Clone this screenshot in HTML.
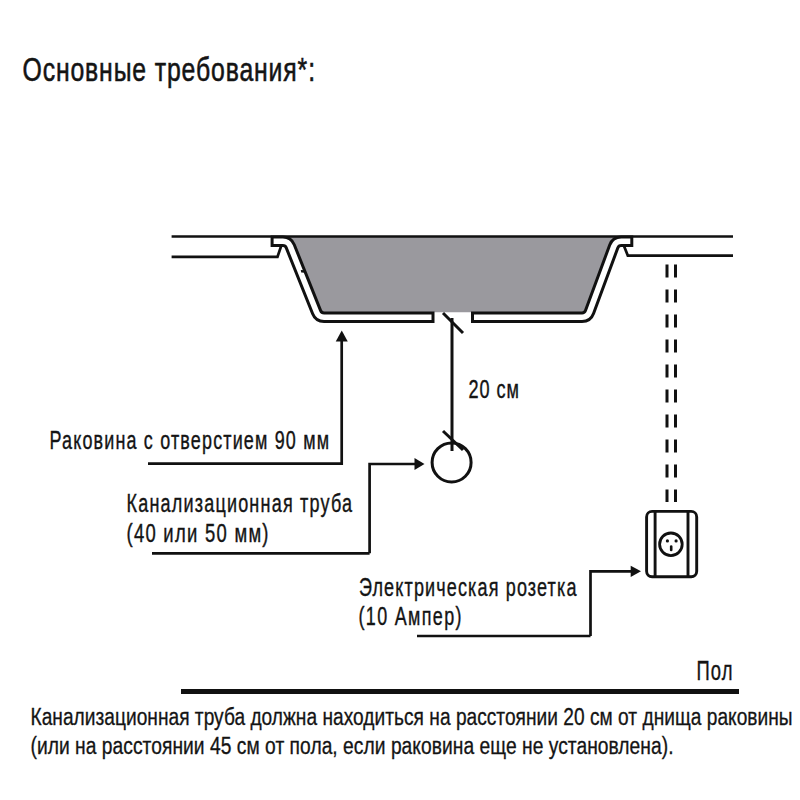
<!DOCTYPE html>
<html><head><meta charset="utf-8">
<style>
html,body{margin:0;padding:0;background:#fff;width:800px;height:800px;overflow:hidden}
svg{display:block}
text{font-family:"Liberation Sans",sans-serif;fill:#141414;stroke:#141414}
</style></head>
<body>
<svg width="800" height="800" viewBox="0 0 800 800">
<rect width="800" height="800" fill="#fff"/>
<!-- title -->

<!-- sink SINKSTART -->
<path d="M286.15 236 L316.63 312.20 L589.44 312.20 L617.63 236 Z" fill="#9a999e"/>
<g fill="none" stroke-linejoin="round">
<path stroke="#111" stroke-width="11.6" d="M270.60 241.30 L282.85 241.30 Q288.27 241.30 290.28 246.33 L316.62 312.17 Q318.63 317.20 324.05 317.20 L434.50 317.20 M471.00 317.20 L582.02 317.20 Q587.59 317.20 589.52 311.98 L613.74 246.52 Q615.67 241.30 621.24 241.30 L633.30 241.30"/>
<path stroke="#fff" stroke-width="5.6" d="M273.60 241.30 L282.85 241.30 Q288.27 241.30 290.28 246.33 L316.62 312.17 Q318.63 317.20 324.05 317.20 L431.50 317.20 M474.00 317.20 L582.02 317.20 Q587.59 317.20 589.52 311.98 L613.74 246.52 Q615.67 241.30 621.24 241.30 L630.30 241.30"/>
</g>
<!-- SINKEND -->
<!-- wall mark -->
<path d="M300.8 270 L305.5 270.2 L306 272.8 L301.2 272.6 Z" fill="#111"/>
<!-- countertop -->
<g stroke="#111" stroke-width="2.7" fill="none">
<path d="M171.6 236.5 H733"/>
<path d="M171.6 256.8 H277.5 L281 246.5"/>
<path d="M733 255.6 H627.8 L624.2 246.5"/>
</g>
<!-- drain -->
<g stroke="#111" stroke-width="3" fill="none">
<path d="M452 318 V451"/>
<path d="M443 313 L463 333"/>
<path d="M443 431 L463 450"/>
<circle cx="451.6" cy="462.4" r="19.5"/>
</g>

<!-- leaders -->
<g stroke="#111" stroke-width="2.7" fill="none">
<path d="M341.7 340 V463.7 H148"/>
<path d="M369.6 553.3 H152 M369.6 553.3 V464 H415"/>
<path d="M590.5 636 H417 M590.5 636 V571.4 H631"/>
</g>
<g fill="#111">
<path d="M341.75 330.5 L347.75 341.5 L335.75 341.5 Z"/>
<path d="M424.5 464 L414.5 458 L414.5 470 Z"/>
<path d="M641 571.3 L630.7 565.7 L630.7 576.9 Z"/>
</g>

<!-- dashed pipe -->
<g stroke="#111" stroke-width="3" stroke-dasharray="13 12">
<path d="M667 264.5 V502"/>
<path d="M675.5 264.5 V502"/>
</g>
<!-- socket -->
<g stroke="#111" stroke-width="2.9" fill="none">
<rect x="646.6" y="511.4" width="50.1" height="65.4" rx="5.5"/>
<path d="M655.1 511 V576.5 M688 511 V576.5"/>
<circle cx="670.9" cy="544.3" r="11.3" stroke-width="2.8"/>
</g>
<g fill="#111">
<circle cx="667.4" cy="540.9" r="1.6"/>
<circle cx="676.1" cy="540.9" r="1.6"/>
<rect x="669.9" y="545.2" width="2.6" height="6" rx="1.3"/>
</g>

<!-- floor -->
<rect x="181" y="689" width="558" height="5" fill="#111"/>

<!-- bottom text -->
<!-- texts -->
<g transform="scale(0.7607,1)"><text x="29.58" y="80.80" font-size="32.6" stroke-width="0.5" vector-effect="non-scaling-stroke" textLength="384.54" lengthAdjust="spacing">Основные требования*:</text></g>
<g transform="scale(0.6829,1)"><text x="72.48" y="448.90" font-size="26.3" stroke-width="0.35" vector-effect="non-scaling-stroke" textLength="409.28" lengthAdjust="spacing">Раковина с отверстием 90 мм</text></g>
<g transform="scale(0.6882,1)"><text x="183.82" y="512.40" font-size="26.2" stroke-width="0.35" vector-effect="non-scaling-stroke" textLength="327.68" lengthAdjust="spacing">Канализационная труба</text></g>
<g transform="scale(0.7045,1)"><text x="179.55" y="541.60" font-size="26.2" stroke-width="0.35" vector-effect="non-scaling-stroke" textLength="201.56" lengthAdjust="spacing">(40 или 50 мм)</text></g>
<g transform="scale(0.6936,1)"><text x="517.55" y="595.80" font-size="26.0" stroke-width="0.35" vector-effect="non-scaling-stroke" textLength="313.56" lengthAdjust="spacing">Электрическая розетка</text></g>
<g transform="scale(0.6889,1)"><text x="520.39" y="624.80" font-size="26.0" stroke-width="0.35" vector-effect="non-scaling-stroke" textLength="149.51" lengthAdjust="spacing">(10 Ампер)</text></g>
<g transform="scale(0.7069,1)"><text x="662.74" y="397.70" font-size="25.6" stroke-width="0.35" vector-effect="non-scaling-stroke" textLength="71.44" lengthAdjust="spacing">20 см</text></g>
<g transform="scale(0.6867,1)"><text x="1014.23" y="680.00" font-size="26.8" stroke-width="0.35" vector-effect="non-scaling-stroke" textLength="52.42" lengthAdjust="spacing">Пол</text></g>
<g transform="scale(0.7778,1)"><text x="39.22" y="725.20" font-size="24.6" stroke-width="0.3" vector-effect="non-scaling-stroke" textLength="979.74" lengthAdjust="spacing">Канализационная труба должна находиться на расстоянии 20 см от днища раковины</text></g>
<g transform="scale(0.7812,1)"><text x="39.04" y="754.10" font-size="24.6" stroke-width="0.3" vector-effect="non-scaling-stroke" textLength="823.12" lengthAdjust="spacing">(или на расстоянии 45 см от пола, если раковина еще не установлена).</text></g>
</svg>
</body></html>
